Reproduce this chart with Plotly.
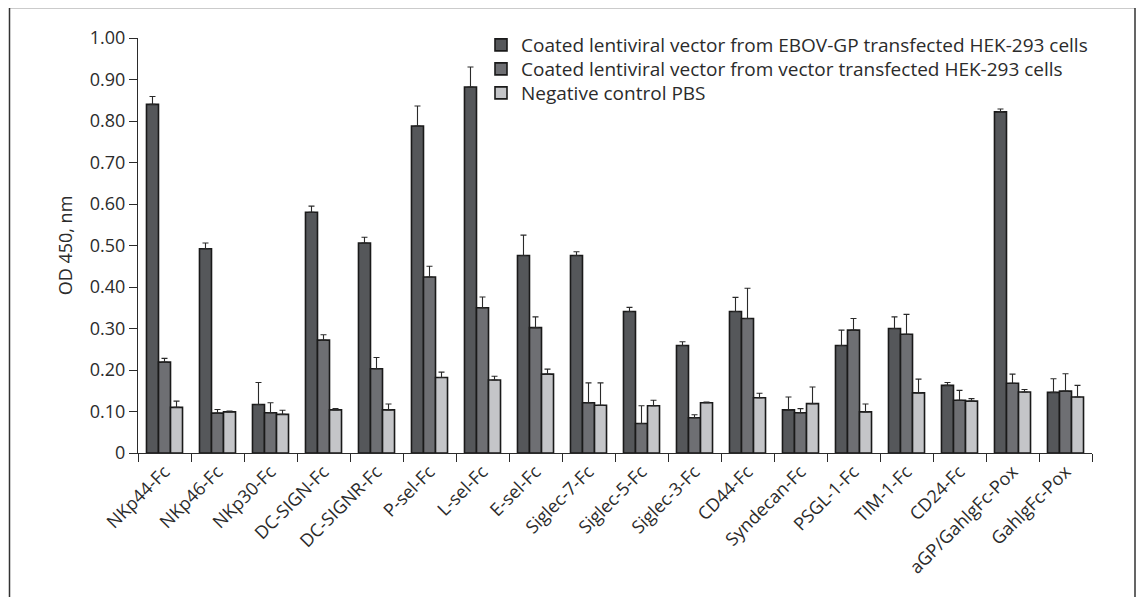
import plotly.graph_objects as go

categories = ["NKp44-Fc", "NKp46-Fc", "NKp30-Fc", "DC-SIGN-Fc", "DC-SIGNR-Fc", "P-sel-Fc",
              "L-sel-Fc", "E-sel-Fc", "Siglec-7-Fc", "Siglec-5-Fc", "Siglec-3-Fc", "CD44-Fc",
              "Syndecan-Fc", "PSGL-1-Fc", "TIM-1-Fc", "CD24-Fc", "aGP/GahlgFc-Pox", "GahlgFc-Pox"]

series_names = ["Coated lentiviral vector from EBOV-GP transfected HEK-293 cells",
                "Coated lentiviral vector from vector transfected HEK-293 cells",
                "Negative control PBS"]

ebov_vals = [0.840, 0.492, 0.117, 0.580, 0.506, 0.788, 0.882, 0.476, 0.476, 0.341, 0.259, 0.341,
             0.104, 0.259, 0.300, 0.163, 0.822, 0.146]
ebov_err = [0.019, 0.014, 0.053, 0.015, 0.014, 0.048, 0.048, 0.049, 0.009, 0.010, 0.009, 0.034,
            0.031, 0.037, 0.028, 0.007, 0.007, 0.033]

vector_vals = [0.219, 0.096, 0.097, 0.272, 0.203, 0.424, 0.350, 0.302, 0.121, 0.071, 0.085, 0.324,
               0.097, 0.296, 0.286, 0.127, 0.168, 0.149]
vector_err = [0.009, 0.009, 0.024, 0.013, 0.027, 0.026, 0.026, 0.026, 0.048, 0.043, 0.007, 0.073,
              0.010, 0.028, 0.048, 0.024, 0.022, 0.042]

pbs_vals = [0.110, 0.099, 0.093, 0.104, 0.104, 0.182, 0.176, 0.190, 0.115, 0.114, 0.121, 0.133,
            0.119, 0.099, 0.145, 0.125, 0.147, 0.135]
pbs_err = [0.015, 0.002, 0.010, 0.003, 0.014, 0.013, 0.009, 0.012, 0.054, 0.013, 0.002, 0.011,
           0.040, 0.019, 0.033, 0.006, 0.006, 0.028]

y_tickvals = [0, 0.1, 0.2, 0.3, 0.4, 0.5, 0.6, 0.7, 0.8, 0.9, 1.0]
y_ticktext = ["0", "0.10", "0.20", "0.30", "0.40", "0.50", "0.60", "0.70", "0.80", "0.90", "1.00"]

colors = ["#55575a", "#6e6f73", "#c4c5c8"]
all_vals = [ebov_vals, vector_vals, pbs_vals]
all_errs = [ebov_err, vector_err, pbs_err]
legend_ids = ["legend", "legend2", "legend3"]

fig = go.Figure()
for name, vals, errs, col, lg in zip(series_names, all_vals, all_errs, colors, legend_ids):
    fig.add_trace(go.Bar(
        x=categories, y=vals, name=name, legend=lg,
        marker=dict(color=col, line=dict(color="#1a1a1a", width=1.6)),
        error_y=dict(type="data", array=errs, symmetric=False, arrayminus=[0] * len(errs),
                     color="#2a2a2a", thickness=1.1, width=3),
    ))

# page body has an 8px margin, so figure coords = screen coords - 8;
# figure kept small enough that the page never needs scrollbars
OFF = 8
W, H = 1128, 589
L, T = 138 - OFF, 38 - OFF
R = W - (1092 - OFF)
B = H - (453 - OFF)
pw = W - L - R
ph = H - T - B

def px_x(p):
    return (p - OFF - L) / pw

def px_y(p):
    return 1 - (p - OFF - T) / ph

fig.add_shape(type="rect", xref="paper", yref="paper",
              x0=px_x(9.5), x1=px_x(1135), y0=px_y(640), y1=px_y(7.5),
              line=dict(color="#333333", width=1.5), fillcolor="rgba(0,0,0,0)", layer="below")

legend_style = dict(xanchor="left", yanchor="top", bgcolor="rgba(0,0,0,0)",
                    font=dict(size=19), itemwidth=30)

fig.update_layout(
    width=W, height=H,
    margin=dict(l=L, r=R, t=T, b=B),
    paper_bgcolor="white", plot_bgcolor="white",
    font=dict(family="Open Sans, Segoe UI, sans-serif", size=18, color="#2b2b2b"),
    barmode="group", bargap=0.32, bargroupgap=0,
    showlegend=True,
    legend=dict(x=px_x(481), y=px_y(26), **legend_style),
    legend2=dict(x=px_x(481), y=px_y(50), **legend_style),
    legend3=dict(x=px_x(481), y=px_y(74), **legend_style),
    xaxis=dict(
        type="category", showline=True, linecolor="#2b2b2b", linewidth=1.2,
        ticks="outside", tickson="boundaries", ticklen=8, tickcolor="#2b2b2b", tickwidth=1.2,
        tickangle=-45, tickfont=dict(size=18), showgrid=False, zeroline=False,
    ),
    yaxis=dict(
        range=[0, 1.0], tickvals=y_tickvals, ticktext=y_ticktext,
        showline=True, linecolor="#2b2b2b", linewidth=1.2,
        ticks="outside", ticklen=8, tickcolor="#2b2b2b", tickwidth=1.2,
        tickfont=dict(size=18), showgrid=False, zeroline=False,
        title=dict(text="OD 450, nm", font=dict(size=18), standoff=12),
    ),
)

fig.write_html("out.html")
